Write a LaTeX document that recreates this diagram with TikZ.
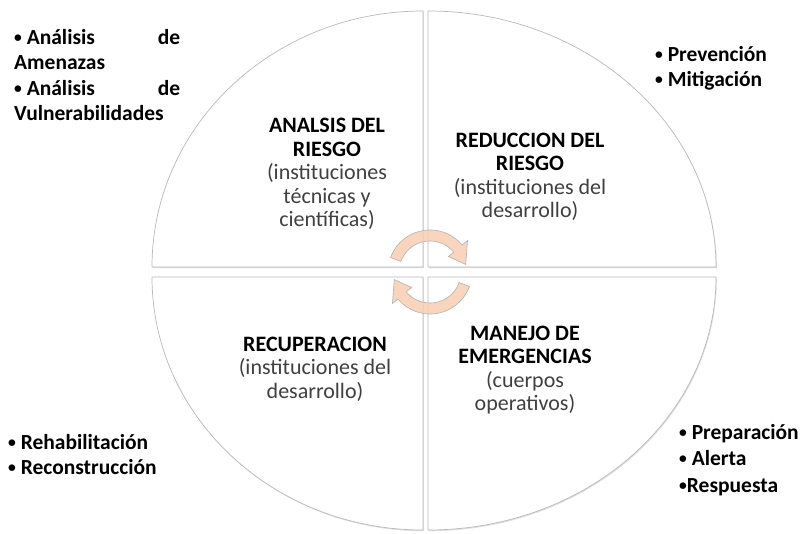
\documentclass[tikz,border=0pt]{standalone}
\usepackage{fontspec}
\setmainfont{Carlito}
\usetikzlibrary{shadows}
\definecolor{durazno}{RGB}{248,206,178}
\definecolor{grisTexto}{RGB}{64,64,64}
\newcommand{\titulo}[1]{{\color{black}\bfseries #1}}
\newcommand{\vineta}{\raisebox{0.18ex}{\scalebox{0.72}{•}}}

\begin{document}
\begin{tikzpicture}[x=1pt, y=1pt,
    cuadrante/.style = {draw=gray!55, line width=0.7pt, fill=white,
      drop shadow={opacity=0.25, shadow xshift=0.8pt, shadow yshift=-1.2pt}},
    flecha/.style = {draw=gray!60, line width=0.6pt,
      fill=durazno, fill opacity=0.85},
    etapa/.style = {align=center, text=grisTexto, inner sep=0pt,
      font=\fontsize{22}{23.5}\selectfont},
    lista/.style = {align=left, anchor=north west, inner sep=0pt,
      font=\fontsize{21.5}{25.5}\selectfont\bfseries},
  ]
  \useasboundingbox (0,0) rectangle (803,533);

  % cuadrantes
  \path[cuadrante] (423,266) -- (152,266)
    arc[start angle=180, end angle=90, x radius=271, y radius=256] -- cycle;
  \path[cuadrante] (428,266) -- (428,522)
    arc[start angle=90, end angle=0, x radius=288, y radius=256] -- cycle;
  \path[cuadrante] (428,256) -- (716,256)
    arc[start angle=0, end angle=-90, x radius=288, y radius=253] -- cycle;
  \path[cuadrante] (423,256) -- (423,3)
    arc[start angle=270, end angle=180, x radius=271, y radius=253] -- cycle;

  % flechas del ciclo
  \begin{scope}[shift={(430,261)}]
    \path[flecha] (160:42) arc[start angle=160, end angle=40, radius=42]
      -- (40:49) -- (12:36.5) -- (40:24) -- (40:31)
      arc[start angle=40, end angle=160, radius=31] -- cycle;
    \path[flecha] (-20:42) arc[start angle=-20, end angle=-140, radius=42]
      -- (-140:49) -- (-168:36.5) -- (-140:24) -- (-140:31)
      arc[start angle=-140, end angle=-20, radius=31] -- cycle;
  \end{scope}

  % etapas
  \node[etapa] (analisis) at (327,359)
    {\titulo{ANALSIS DEL}\\\titulo{RIESGO}\\(instituciones\\t\'ecnicas y\\cient\'ificas)};
  \node[etapa] (reduccion) at (530,356)
    {\titulo{REDUCCION DEL}\\\titulo{RIESGO}\\(instituciones del\\desarrollo)};
  \node[etapa] (recuperacion) at (315,164)
    {\titulo{RECUPERACION}\\(instituciones del\\desarrollo)};
  \node[etapa] (manejo) at (525,163)
    {\titulo{MANEJO DE}\\\titulo{EMERGENCIAS}\\(cuerpos\\operativos)};

  % actividades
  \node[lista] (amenazas) at (14,504)
    {\makebox[166pt][l]{\vineta{} Análisis\hfill de}\\Amenazas\\
     \makebox[166pt][l]{\vineta{} Análisis\hfill de}\\Vulnerabilidades};
  \node[lista] (prevencion) at (655,487) {\vineta{} Prevención\\\vineta{} Mitigación};
  \node[lista] (rehabilitacion) at (8,99) {\vineta{} Rehabilitación\\\vineta{} Reconstrucción};
  \node[lista, font=\fontsize{21.5}{26.5}\selectfont\bfseries] (preparacion) at (679,109)
    {\vineta{} Preparación\\\vineta{} Alerta\\\vineta Respuesta};
\end{tikzpicture}
\end{document}
